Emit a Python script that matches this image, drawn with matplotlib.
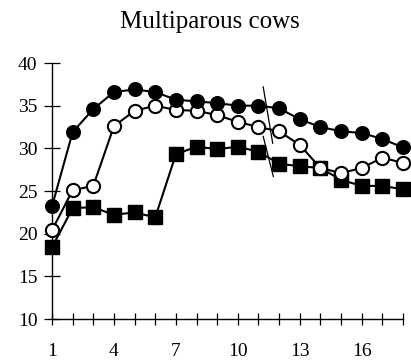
import numpy as np
import matplotlib.pyplot as plt

plt.rcParams['font.family'] = ['Liberation Serif', 'DejaVu Serif']

weeks = np.arange(1, 19)
filled_circles = [23.2, 31.9, 34.6, 36.6, 36.9, 36.6, 35.7, 35.5, 35.3,
                  35.0, 35.0, 34.7, 33.4, 32.5, 32.0, 31.8, 31.1, 30.1]
open_circles = [20.4, 25.1, 25.6, 32.6, 34.4, 35.0, 34.5, 34.4, 33.9,
                33.1, 32.5, 32.0, 30.4, 27.7, 27.1, 27.7, 28.9, 28.3]
squares = [18.4, 23.0, 23.1, 22.2, 22.5, 21.9, 29.3, 30.2, 29.9,
           30.2, 29.6, 28.2, 27.9, 27.7, 26.3, 25.6, 25.6, 25.2]
xtick_labels = [1, 4, 7, 10, 13, 16]
yticks = [10, 15, 20, 25, 30, 35, 40]

fig = plt.figure(figsize=(4.11, 3.63), dpi=100)
ax = fig.add_axes([0.1265, 0.1212, 0.854, 0.7052])

ax.plot(weeks, squares, color="black", lw=1.5, marker="s", ms=9.5,
        mfc="black", mec="black", zorder=3, clip_on=False)
ax.plot(weeks, open_circles, color="black", lw=1.5, marker="o", ms=9.5,
        mfc="white", mec="black", mew=1.5, zorder=4, clip_on=False)
ax.plot(weeks, filled_circles, color="black", lw=1.5, marker="o", ms=9.8,
        mfc="black", mec="black", zorder=5, clip_on=False)

# break marks between weeks 11 and 12
ax.plot([11.23, 11.69], [37.2, 30.6], color="black", lw=0.9, zorder=6)
ax.plot([11.23, 11.72], [31.4, 26.7], color="black", lw=0.9, zorder=6)

ax.set_xlim(1, 18)
ax.set_ylim(10, 40)
ax.set_xticks(weeks)
ax.set_xticklabels([str(w) if w in xtick_labels else "" for w in weeks])
ax.set_yticks(yticks)

for side in ["top", "right"]:
    ax.spines[side].set_visible(False)
for side in ["left", "bottom"]:
    ax.spines[side].set_linewidth(1.0)

ax.tick_params(axis="y", direction="inout", length=11, width=0.9,
               labelsize=14, pad=5)
ax.tick_params(axis="x", direction="inout", length=9, width=0.9,
               labelsize=14, pad=13)

fig.text(0.51, 0.94, "Multiparous cows", ha="center", va="center", fontsize=18)

fig.savefig("out.png", dpi=100)
